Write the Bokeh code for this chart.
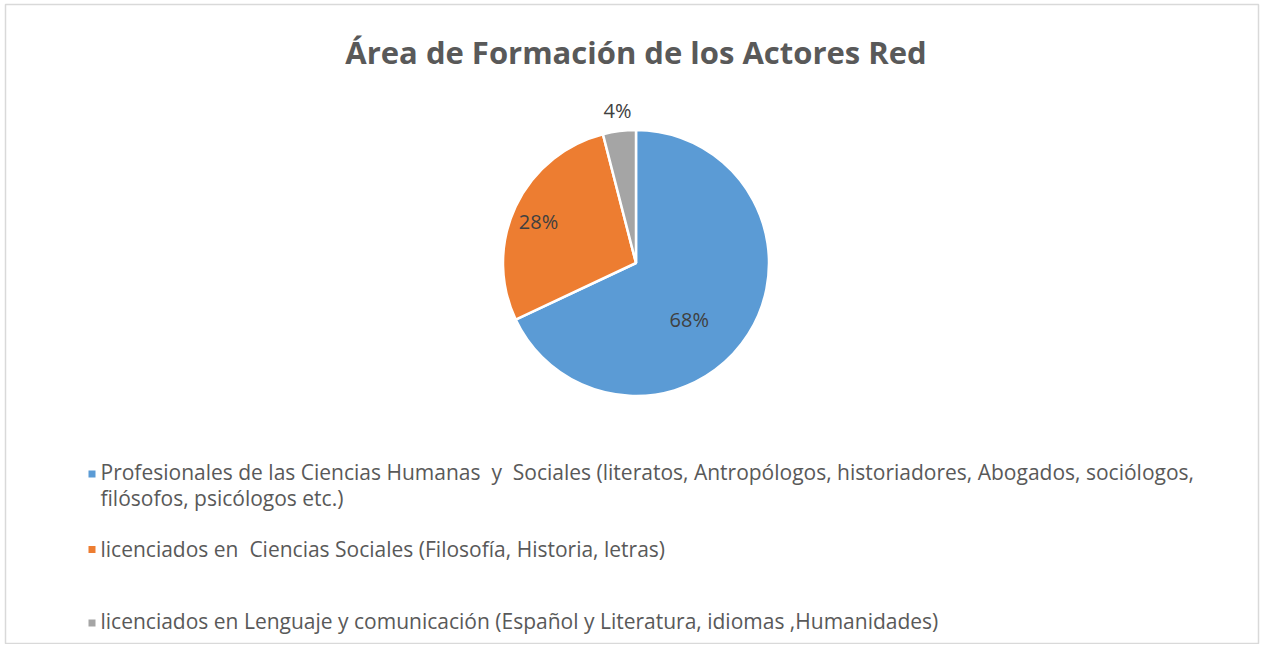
import math
from bokeh.plotting import figure
from bokeh.models import Range1d, ColumnDataSource
from bokeh.core.properties import value
from bokeh.embed import file_html
from bokeh.resources import INLINE

# ---- data ----
title_text = "Área de Formación de los Actores Red"
categories = [
    "Profesionales de las Ciencias Humanas \u00a0y \u00a0Sociales (literatos, Antropólogos, historiadores, Abogados, sociólogos,\nfilósofos, psicólogos etc.)",
    "licenciados en \u00a0Ciencias Sociales (Filosofía, Historia, letras)",
    "licenciados en Lenguaje y comunicación (Español y Literatura, idiomas ,Humanidades)",
]
shares = [68, 28, 4]
colors = ["#5B9BD5", "#ED7D31", "#A5A5A5"]

# ---- layout (pixel-like data space, y measured up from bottom) ----
W, H = 1260, 644
def Y(py):
    return H - py

cx, cy, r = 635.5, Y(262.5), 133
label_r = [0.583, 0.797, 1.155]
label_dang = [-14.2, 2.1, -0.3]   # degrees, label nudges (best-fit style)

p = figure(width=W, height=H, output_backend="svg", toolbar_location=None,
           x_range=Range1d(0, W), y_range=Range1d(0, H),
           x_axis_location=None, y_axis_location=None, min_border=0)
p.grid.visible = False
p.outline_line_color = None
p.background_fill_color = "white"
p.border_fill_color = "white"

# chart-area border
p.quad(left=[5], right=[1258], top=[Y(4)], bottom=[Y(643)],
       fill_color=None, line_color="#D9D9D9", line_width=1.5)

total = sum(shares)
starts, ends, lx, ly, ltxt = [], [], [], [], []
acc = 0.0
for s, lr, da in zip(shares, label_r, label_dang):
    a0 = math.pi / 2 - 2 * math.pi * acc / total
    a1 = math.pi / 2 - 2 * math.pi * (acc + s) / total
    starts.append(a0)
    ends.append(a1)
    mid = (a0 + a1) / 2 + math.radians(da)
    lx.append(cx + lr * r * math.cos(mid))
    ly.append(cy + lr * r * math.sin(mid))
    ltxt.append(f"{round(100 * s / total)}%")
    acc += s

src = ColumnDataSource(dict(start=starts, end=ends, color=colors))
p.wedge(x=cx, y=cy, radius=r, start_angle="start", end_angle="end",
        direction="clock", fill_color="color", line_color="white",
        line_width=2.5, source=src)

p.text(x=lx, y=ly, text=ltxt, text_align="center", text_baseline="middle",
       text_font=value("Open Sans"), text_font_size="20px", text_color="#404040")

p.text(x=[635.5], y=[Y(51)], text=[title_text], text_align="center",
       text_baseline="middle", text_font=value("Open Sans"),
       text_font_size="31px", text_font_style="bold", text_color="#595959")

# ---- legend (manual) ----
leg_mid = [Y(471), Y(548), Y(620)]
leg_mark = [Y(473.5), Y(549), Y(622.5)]
mx, tx, lh = 91.5, 100, 26
p.rect(x=[mx] * 3, y=leg_mark, width=7, height=7, fill_color=colors, line_color=None)
for yy, lab in zip(leg_mid, categories):
    lines = lab.split("\n")
    p.text(x=[tx] * len(lines), y=[yy - lh * i for i in range(len(lines))], text=lines,
           text_align="left", text_baseline="middle", text_font=value("Open Sans"),
           text_font_size="21px", text_color="#595959")

open("out.html", "w").write(file_html(p, INLINE))
